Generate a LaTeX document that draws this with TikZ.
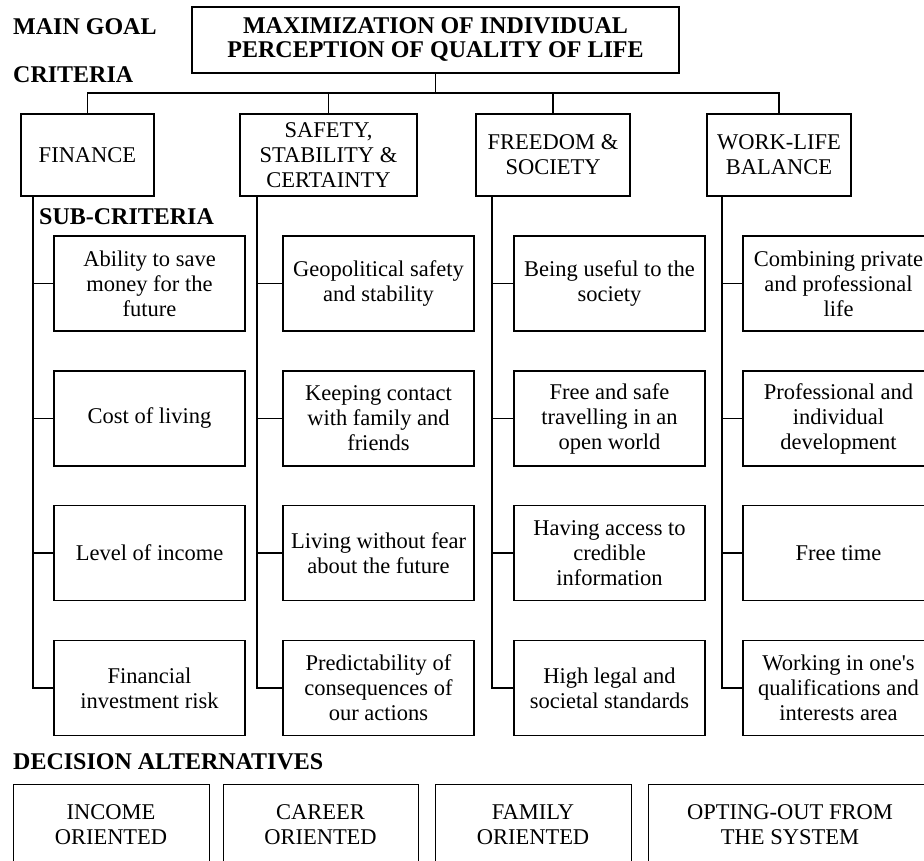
\documentclass[tikz,border=0pt]{standalone}
\usepackage{fontspec}
\setmainfont{Liberation Serif}
\newcommand\boxsize{\fontsize{22.5}{25}\selectfont}
\newcommand\headsize{\fontsize{24}{24}\selectfont\bfseries}
\tikzset{
  goalbox/.style={draw, line width=1.7pt, align=center, font=\headsize, minimum width=487, minimum height=66, inner sep=2pt},
  critbox/.style={draw, line width=1.7pt, align=center, minimum height=82, inner sep=2pt},
  subbox/.style={draw, line width=1.7pt, align=center, minimum width=191, minimum height=95, inner sep=1pt},
  altbox/.style={draw, line width=0.8pt, align=center, anchor=north, minimum height=80, inner sep=1pt},
  heading/.style={anchor=west, font=\headsize, inner sep=0pt},
  link/.style={line width=1.7pt}
}
\begin{document}
\begin{tikzpicture}[x=1pt, y=-1pt, font=\boxsize]
          \useasboundingbox (0,0) rectangle (924,861);
          % headings
            \node[heading] (hgoal) at (13,27) {MAIN GOAL};
            \node[heading] (hcrit) at (13,75) {CRITERIA};
            \node[heading] (hsub) at (39,217) {SUB-CRITERIA};
            \node[heading] (halt) at (13,762) {DECISION ALTERNATIVES};
          % main goal
            \node[goalbox] (goal) at (435.5,40) {MAXIMIZATION OF INDIVIDUAL\\PERCEPTION OF QUALITY OF LIFE};
            \coordinate (bus) at (435.5,93);
          % criteria
            \node[critbox, minimum width=133] (fin) at (87.5,155) {FINANCE};
            \node[critbox, minimum width=177] (saf) at (328.5,155) {SAFETY,\\STABILITY \&\\CERTAINTY};
            \node[critbox, minimum width=154] (free) at (553,155) {FREEDOM \&\\SOCIETY};
            \node[critbox, minimum width=144] (work) at (779,155) {WORK-LIFE\\BALANCE};
            \draw[link] (goal.south) -- (bus);
            \draw[link] (fin.north) |- (bus);
            \draw[link] (work.north) |- (bus);
            \draw[link] (saf.north) -- (saf.north |- bus);
            \draw[link] (free.north) -- (free.north |- bus);
          % sub-criteria of finance
            \node[subbox] (fin1) at (149.5,283.5) {Ability to save\\money for the\\future};
            \node[subbox] (fin2) at (149.5,418.5) {Cost of living};
            \node[subbox] (fin3) at (149.5,553) {Level of income};
            \node[subbox] (fin4) at (149.5,688) {Financial\\investment risk};
            \coordinate (spfin) at (33,196);
          % sub-criteria of safety
            \node[subbox] (saf1) at (378.5,283.5) {Geopolitical safety\\and stability};
            \node[subbox] (saf2) at (378.5,418.5) {Keeping contact\\with family and\\friends};
            \node[subbox] (saf3) at (378.5,553) {Living without fear\\about the future};
            \node[subbox] (saf4) at (378.5,688) {Predictability of\\consequences of\\our actions};
            \coordinate (spsaf) at (257,196);
          % sub-criteria of freedom
            \node[subbox] (free1) at (609.5,283.5) {Being useful to the\\society};
            \node[subbox] (free2) at (609.5,418.5) {Free and safe\\travelling in an\\open world};
            \node[subbox] (free3) at (609.5,553) {Having access to\\credible\\information};
            \node[subbox] (free4) at (609.5,688) {High legal and\\societal standards};
            \coordinate (spfree) at (492,196);
          % sub-criteria of work-life balance
            \node[subbox] (work1) at (838.5,283.5) {Combining private\\and professional\\life};
            \node[subbox] (work2) at (838.5,418.5) {Professional and\\individual\\development};
            \node[subbox] (work3) at (838.5,553) {Free time};
            \node[subbox] (work4) at (838.5,688) {Working in one\textquotesingle s\\qualifications and\\interests area};
            \coordinate (spwork) at (722,196);
          % spines
            \foreach \c in {fin, saf, free, work} {
              \foreach \r in {1,...,4} {
                \draw[link] (sp\c) |- (\c\r.west);
              }
            }
          % decision alternatives
            \node[altbox, minimum width=196] (alt1) at (111,784) {INCOME\\ORIENTED};
            \node[altbox, minimum width=195] (alt2) at (320.5,784) {CAREER\\ORIENTED};
            \node[altbox, minimum width=196] (alt3) at (533,784) {FAMILY\\ORIENTED};
            \node[altbox, minimum width=284] (alt4) at (790,784) {OPTING-OUT FROM\\THE SYSTEM};
          \end{tikzpicture}
\end{document}
